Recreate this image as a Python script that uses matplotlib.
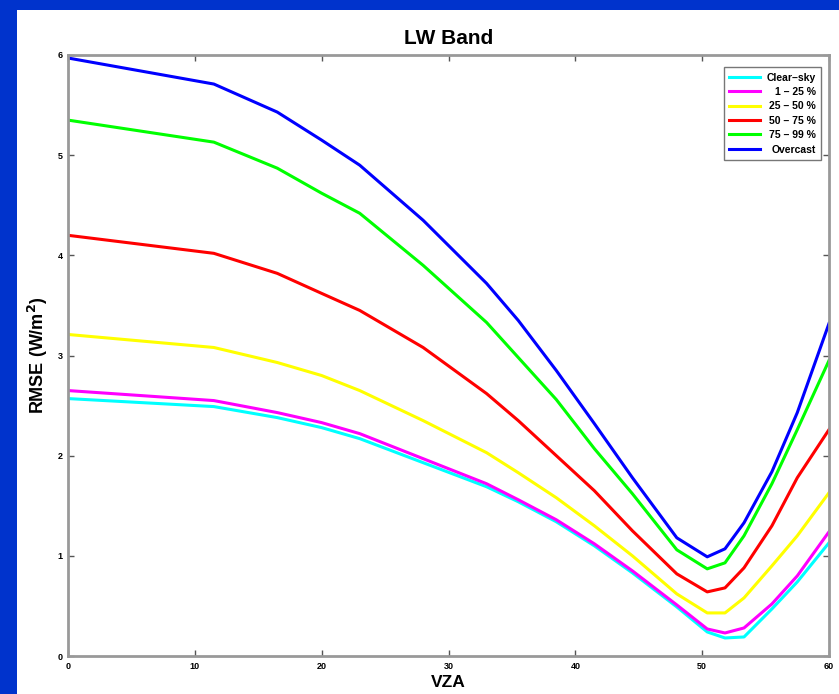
import matplotlib
matplotlib.use("Agg")
import matplotlib.pyplot as plt
from matplotlib.patches import Rectangle

plt.rcParams['font.family'] = ['Liberation Sans', 'DejaVu Sans']
plt.rcParams['font.weight'] = 'bold'

# viewing zenith angle samples
vza = [0, 11.5, 16.5, 20.0, 23.0, 28.0, 33.0, 35.5, 38.5, 41.5, 44.5, 48.0,
       50.4, 51.8, 53.3, 55.5, 57.5, 60.0]

# RMSE per cloud-cover class
clear_sky = [2.57, 2.49, 2.38, 2.28, 2.17, 1.93, 1.69, 1.54, 1.34, 1.10, 0.83, 0.49,
             0.24, 0.18, 0.19, 0.47, 0.74, 1.13]
cc_1_25 = [2.65, 2.55, 2.43, 2.33, 2.22, 1.97, 1.72, 1.56, 1.36, 1.12, 0.85, 0.51,
           0.27, 0.23, 0.28, 0.52, 0.80, 1.24]
cc_25_50 = [3.21, 3.08, 2.93, 2.80, 2.65, 2.35, 2.03, 1.83, 1.58, 1.30, 1.00, 0.62,
            0.43, 0.43, 0.58, 0.90, 1.20, 1.63]
cc_50_75 = [4.20, 4.02, 3.82, 3.62, 3.45, 3.08, 2.62, 2.35, 2.00, 1.65, 1.25, 0.82,
            0.64, 0.68, 0.88, 1.30, 1.78, 2.26]
cc_75_99 = [5.35, 5.13, 4.87, 4.62, 4.42, 3.90, 3.33, 2.98, 2.56, 2.07, 1.62, 1.06,
            0.87, 0.93, 1.20, 1.72, 2.26, 2.95]
overcast = [5.97, 5.71, 5.43, 5.15, 4.90, 4.35, 3.72, 3.35, 2.85, 2.32, 1.78, 1.18,
            0.99, 1.07, 1.33, 1.84, 2.43, 3.32]

labels = ['Clear\u2013sky', '1 \u2013 25 %', '25 \u2013 50 %', '50 \u2013 75 %',
          '75 \u2013 99 %', 'Overcast']
colors = ['#00ffff', '#ff00ff', '#ffff00', '#ff0000', '#00ff00', '#0000ff']
series = [clear_sky, cc_1_25, cc_25_50, cc_50_75, cc_75_99, overcast]

fig = plt.figure(figsize=(8.39, 6.94), dpi=100)
fig.patch.set_facecolor('#0033cc')
# white panel inside the blue frame
fig.patches.append(Rectangle((17 / 839, 0), 1, 1 - 10 / 694, transform=fig.transFigure,
                             facecolor='white', edgecolor='none', zorder=-10))

ax = fig.add_axes([68 / 839, 38 / 694, 761 / 839, 601 / 694])
for y, c, lab in zip(series, colors, labels):
    ax.plot(vza, y, color=c, linewidth=2.2, label=lab)

ax.set_xlim(0, 60)
ax.set_ylim(0, 6)
ax.set_xticks(range(0, 61, 10))
ax.set_yticks(range(0, 7))
ax.tick_params(direction='in', length=4, width=1, top=True, right=True,
               labelsize=6.5, color='#555555', pad=4)
for s in ax.spines.values():
    s.set_color('#999999')
    s.set_linewidth(2)

ax.set_title('LW Band', fontsize=15, fontweight='bold', pad=8)
ax.set_xlabel('VZA', fontsize=12.5, fontweight='bold', labelpad=3)
ax.set_ylabel('RMSE (W/m$^\\mathbf{2}$)', fontsize=13, fontweight='bold', labelpad=5)

leg = ax.legend(loc='upper right', fontsize=7.5, frameon=True, fancybox=False,
                edgecolor='#555555', handlelength=3.0, handletextpad=0.6,
                borderpad=0.5, labelspacing=0.42, bbox_to_anchor=(0.996, 0.988))
leg.get_frame().set_linewidth(1)

# right-align the legend labels
fig.canvas.draw()
texts = leg.get_texts()
widest = max(t.get_window_extent().width for t in texts)
for t in texts:
    t.set_position((widest - t.get_window_extent().width, 0))

fig.savefig('out.png', dpi=100, facecolor=fig.get_facecolor())
